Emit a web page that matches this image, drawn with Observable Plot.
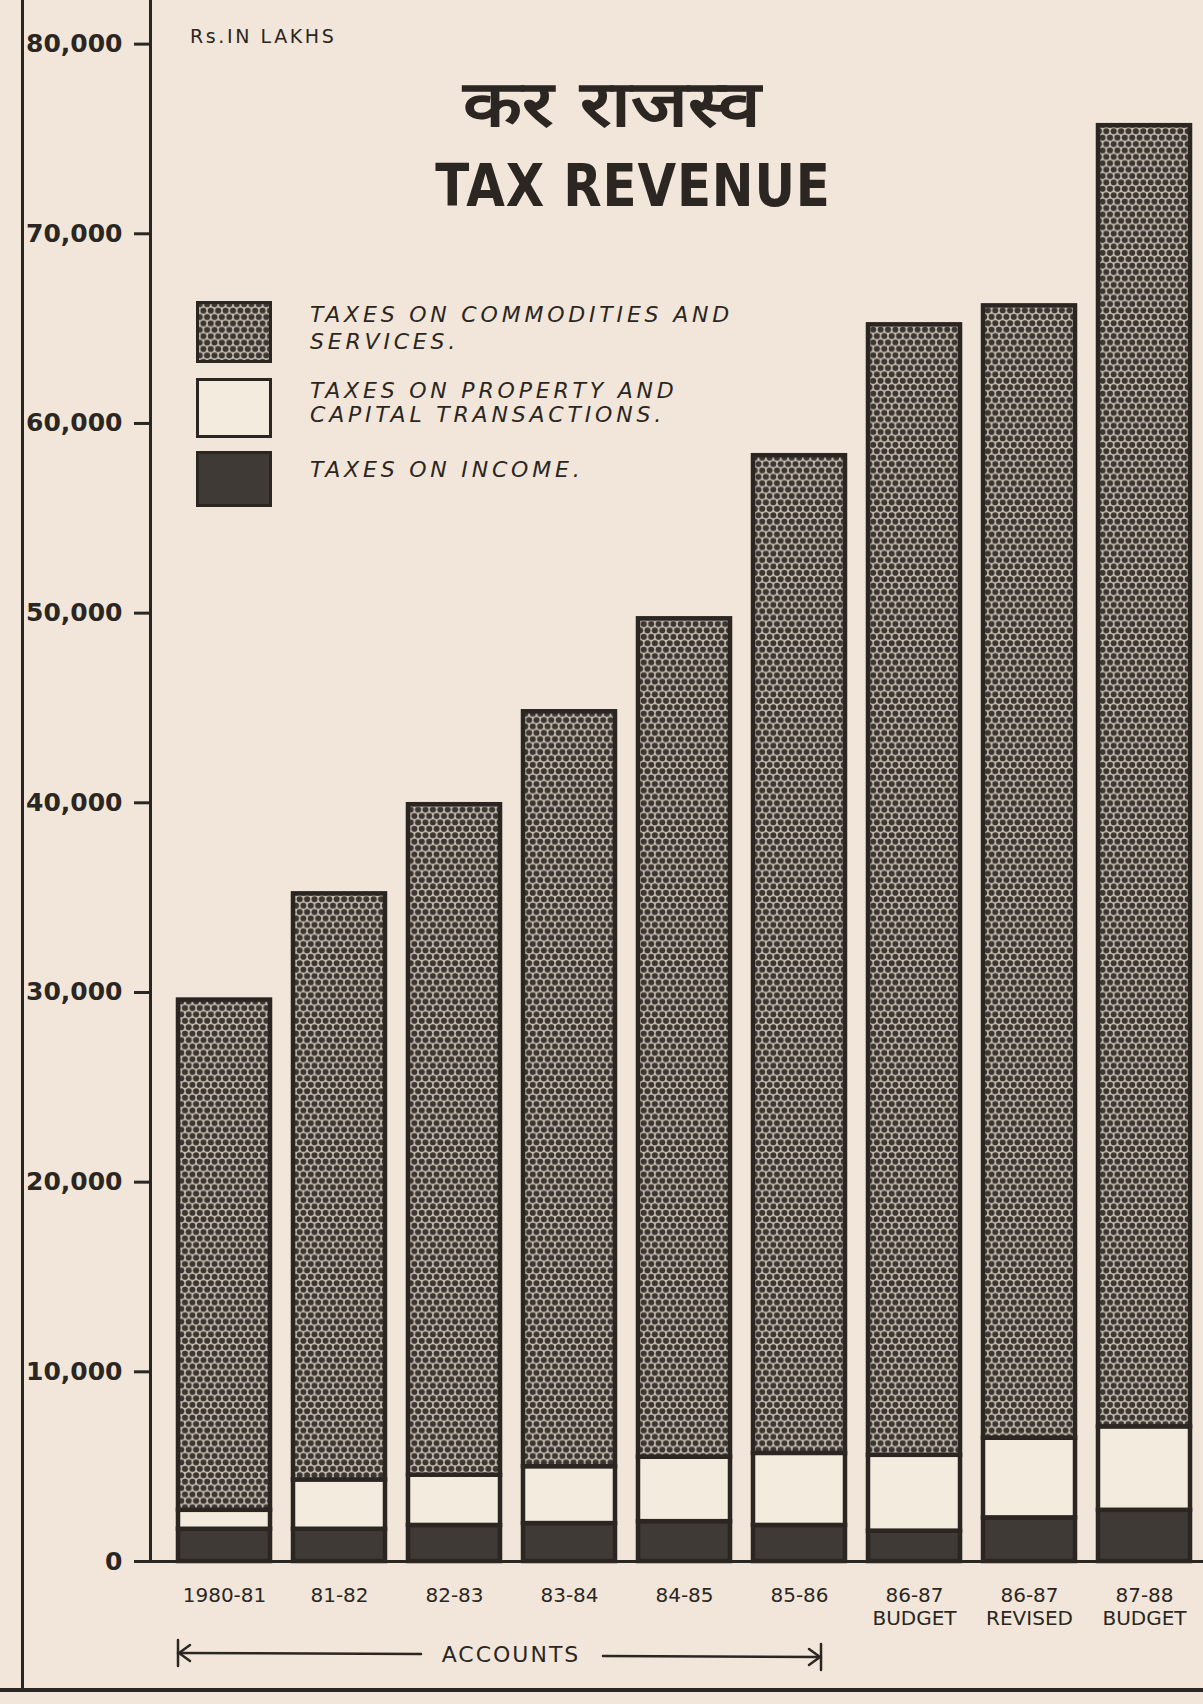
<!DOCTYPE html>
<html>
<head>
<meta charset="utf-8">
<script src="https://cdn.jsdelivr.net/npm/d3@7"></script>
<script src="https://cdn.jsdelivr.net/npm/@observablehq/plot@0.6"></script>
<style>
  html, body { margin: 0; padding: 0; background: #f1e6d9; }
  #page { position: relative; width: 1203px; height: 1704px; overflow: hidden; background: #f1e6d9; color: #2b2622; font-family: "DejaVu Sans", sans-serif; }
  #page svg.plot { position: absolute; left: 0; top: 0; }
  .abs { position: absolute; white-space: nowrap; }
  .leg { font-style: italic; font-size: 22px; letter-spacing: 3.8px; line-height: 1; }
</style>
</head>
<body>
<div id="page"></div>
<script>
// ---- data (Rs. in lakhs) ----
const years = ["1980-81", "81-82", "82-83", "83-84", "84-85", "85-86", "86-87\nBUDGET", "86-87\nREVISED", "87-88\nBUDGET"];
const income      = [1700, 1700, 1900, 2000, 2100, 1900, 1600, 2300, 2700];
const property    = [1000, 2600, 2650, 3000, 3400, 3800, 4000, 4200, 4400];
const commodities = [26900, 30900, 35350, 39800, 44200, 52600, 59600, 59700, 68600];
const categories = ["TAXES ON INCOME.", "TAXES ON PROPERTY AND CAPITAL TRANSACTIONS.", "TAXES ON COMMODITIES AND SERVICES."];
const yTicks = [0, 10000, 20000, 30000, 40000, 50000, 60000, 70000, 80000];

const rows = [];
years.forEach((yr, i) => {
  rows.push({year: yr, category: categories[0], value: income[i]});
  rows.push({year: yr, category: categories[1], value: property[i]});
  rows.push({year: yr, category: categories[2], value: commodities[i]});
});

const ink = "#2b2622";
const colors = ["#403a36", "#f4ebdf", "url(#dots)"];
const patternBody = `
    <rect width="7.4" height="12.8" fill="#c8beb1"/>
    <circle cx="3.7" cy="3.2" r="3.05" fill="#3b3632"/>
    <circle cx="0" cy="9.6" r="3.05" fill="#3b3632"/>
    <circle cx="7.4" cy="9.6" r="3.05" fill="#3b3632"/>`;

const chart = Plot.plot({
  width: 1203,
  height: 1704,
  marginTop: 0,
  marginBottom: 143,
  marginLeft: 150,
  marginRight: 0,
  style: {background: "transparent", fontFamily: "DejaVu Sans", color: ink, overflow: "visible"},
  x: {domain: years, type: "band", paddingInner: 0.2, paddingOuter: 0.1625, align: 0.69},
  y: {domain: [0, 82300]},
  color: {domain: categories, range: colors},
  marks: [
    Plot.barY(rows, {x: "year", y: "value", fill: "category", stroke: ink, strokeWidth: 4.5}),
    Plot.ruleY([0], {stroke: ink, strokeWidth: 3}),
    Plot.frame({anchor: "left", stroke: ink, strokeWidth: 3}),
    Plot.axisY({ticks: yTicks, tickSize: 16, tickPadding: 12, tickFormat: d3.format(","), fontSize: 25, fontWeight: "bold", stroke: ink, strokeWidth: 3, label: null}),
    Plot.axisX({tickSize: 0, tickPadding: 24, fontSize: 20, label: null, lineHeight: 1.15})
  ]
});

// pattern for commodity taxes (halftone dots)
const defs = document.createElementNS("http://www.w3.org/2000/svg", "defs");
defs.innerHTML = `<pattern id="dots" width="7.4" height="12.8" patternUnits="userSpaceOnUse">${patternBody}</pattern>`;
chart.insertBefore(defs, chart.firstChild);

const page = document.getElementById("page");
page.appendChild(chart);

function addDiv(html, style, cls) {
  const d = document.createElement("div");
  d.className = "abs" + (cls ? " " + cls : "");
  d.innerHTML = html;
  Object.assign(d.style, style);
  page.appendChild(d);
  return d;
}

// page frame lines
addDiv("", {left: "21px", top: "0px", width: "3px", height: "1690px", background: ink});
addDiv("", {left: "0px", top: "1688px", width: "1203px", height: "4px", background: ink});

// unit label
addDiv("Rs.IN LAKHS", {left: "190px", top: "25px", fontSize: "19px", letterSpacing: "2.6px"});

// titles
addDiv("कर राजस्व", {left: "612px", top: "72px", transform: "translateX(-50%) scaleX(1.2)", fontSize: "64px", fontWeight: "bold", lineHeight: "1"});
addDiv("TAX REVENUE", {left: "633px", top: "157px", transform: "translateX(-50%) scaleX(0.86)", fontSize: "58px", fontWeight: "bold", lineHeight: "1", letterSpacing: "1px"});

// legend
const swatchSvg = (fill, w, h) => `<svg width="${w}" height="${h}" style="display:block">
  <defs><pattern id="ldots" width="7.4" height="12.8" patternUnits="userSpaceOnUse">${patternBody}</pattern></defs>
  <rect x="1.5" y="1.5" width="${w - 3}" height="${h - 3}" fill="${fill === "url(#dots)" ? "url(#ldots)" : fill}" stroke="${ink}" stroke-width="3"/></svg>`;

addDiv(swatchSvg(colors[2], 76, 62), {left: "196px", top: "301px"});
addDiv(swatchSvg(colors[1], 76, 60), {left: "196px", top: "378px"});
addDiv(swatchSvg(colors[0], 76, 56), {left: "196px", top: "451px"});

addDiv("TAXES ON COMMODITIES AND", {left: "310px", top: "304px"}, "leg");
addDiv("SERVICES.", {left: "310px", top: "331px"}, "leg");
addDiv("TAXES ON PROPERTY AND", {left: "310px", top: "380px"}, "leg");
addDiv("CAPITAL TRANSACTIONS.", {left: "310px", top: "404px"}, "leg");
addDiv("TAXES ON INCOME.", {left: "310px", top: "459px"}, "leg");

// ACCOUNTS arrow below the first six bars (positions from the x scale)
const xs = chart.scale("x");
const bw = xs.bandwidth;
const ax1 = xs.apply(years[0]);
const ax2 = xs.apply(years[5]) + bw / 2 + 22;
const ay = 1653;
const arrow = document.createElementNS("http://www.w3.org/2000/svg", "svg");
arrow.setAttribute("width", 1203);
arrow.setAttribute("height", 1704);
arrow.style.position = "absolute";
arrow.style.left = "0px";
arrow.style.top = "0px";
const mid = 511;
arrow.innerHTML = `
  <g stroke="${ink}" stroke-width="2.5" fill="none" stroke-linecap="round">
    <line x1="${ax1}" y1="${ay - 13}" x2="${ax1}" y2="${ay + 13}"/>
    <line x1="${ax1}" y1="${ay}" x2="${mid - 90}" y2="${ay + 1}"/>
    <polyline points="${ax1 + 12},${ay - 8} ${ax1 + 1},${ay} ${ax1 + 12},${ay + 8}"/>
    <line x1="${mid + 92}" y1="${ay + 3}" x2="${ax2}" y2="${ay + 4}"/>
    <line x1="${ax2}" y1="${ay - 9}" x2="${ax2}" y2="${ay + 17}"/>
    <polyline points="${ax2 - 12},${ay - 4} ${ax2 - 1},${ay + 4} ${ax2 - 12},${ay + 12}"/>
  </g>
  <text x="${mid}" y="${ay + 9}" text-anchor="middle" font-family="DejaVu Sans" font-size="22" letter-spacing="2" fill="${ink}">ACCOUNTS</text>`;
page.appendChild(arrow);
</script>
</body>
</html>
